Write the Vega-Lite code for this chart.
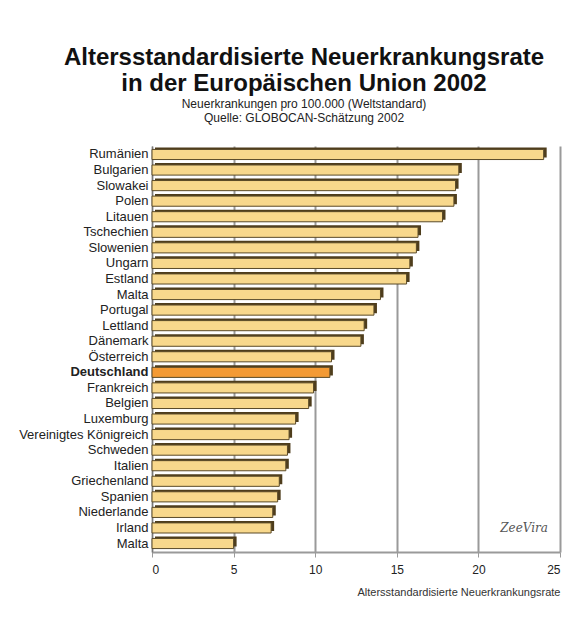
{
  "$schema": "https://vega.github.io/schema/vega-lite/v6.json",
  "autosize": "none",
  "width": 408,
  "height": 406,
  "padding": {"left": 152, "top": 146, "right": 3, "bottom": 69},
  "background": "white",
  "title": {
    "text": ["Altersstandardisierte Neuerkrankungsrate", "in der Europäischen Union 2002"],
    "subtitle": ["Neuerkrankungen pro 100.000 (Weltstandard)", "Quelle: GLOBOCAN-Schätzung 2002"],
    "anchor": "middle",
    "dx": -52,
    "offset": 22,
    "font": "Liberation Sans",
    "fontSize": 24,
    "fontWeight": "bold",
    "color": "#111111",
    "lineHeight": 26,
    "subtitleFont": "Liberation Sans",
    "subtitleFontSize": 12,
    "subtitleLineHeight": 14,
    "subtitleColor": "#222222",
    "subtitlePadding": 3
  },
  "data": {
    "values": [
      {"land": "Rumänien", "rate": 24.0},
      {"land": "Bulgarien", "rate": 18.8},
      {"land": "Slowakei", "rate": 18.6},
      {"land": "Polen", "rate": 18.5},
      {"land": "Litauen", "rate": 17.8},
      {"land": "Tschechien", "rate": 16.3},
      {"land": "Slowenien", "rate": 16.2},
      {"land": "Ungarn", "rate": 15.8},
      {"land": "Estland", "rate": 15.6},
      {"land": "Malta", "rate": 14.0},
      {"land": "Portugal", "rate": 13.6},
      {"land": "Lettland", "rate": 13.0},
      {"land": "Dänemark", "rate": 12.8},
      {"land": "Österreich", "rate": 11.0},
      {"land": "Deutschland", "rate": 10.9},
      {"land": "Frankreich", "rate": 9.9},
      {"land": "Belgien", "rate": 9.6},
      {"land": "Luxemburg", "rate": 8.8},
      {"land": "Vereinigtes Königreich", "rate": 8.4},
      {"land": "Schweden", "rate": 8.3},
      {"land": "Italien", "rate": 8.2},
      {"land": "Griechenland", "rate": 7.8},
      {"land": "Spanien", "rate": 7.7},
      {"land": "Niederlande", "rate": 7.4},
      {"land": "Irland", "rate": 7.3},
      {"land": "Malta\u200b", "rate": 5.0}
    ]
  },
  "encoding": {
    "y": {
      "field": "land",
      "type": "nominal",
      "sort": null,
      "scale": {"paddingInner": 0.35, "paddingOuter": 0.22},
      "axis": {
        "title": null,
        "ticks": false,
        "domain": true,
        "domainColor": "#777777",
        "labelPadding": 4,
        "labelFont": "Liberation Sans",
        "labelFontSize": 13,
        "labelColor": "#222222",
        "labelFontWeight": {"condition": {"test": "datum.value === 'Deutschland'", "value": "bold"}, "value": "normal"}
      }
    },
    "x": {
      "field": "rate",
      "type": "quantitative",
      "scale": {"domain": [0, 25], "nice": false},
      "axis": {
        "title": "Altersstandardisierte Neuerkrankungsrate",
        "values": [0, 5, 10, 15, 20, 25],
        "grid": true,
        "gridColor": "#9a9a9a",
        "gridWidth": 2,
        "domainColor": "#9a9a9a",
        "domainWidth": 2,
        "tickColor": "#9a9a9a",
        "tickSize": 5,
        "labelPadding": 7,
        "labelFont": "Liberation Sans",
        "labelFontSize": 12,
        "labelColor": "#222222",
        "titleFont": "Liberation Sans",
        "titleFontSize": 11,
        "titleFontWeight": "normal",
        "titleColor": "#333333",
        "titleAnchor": "start",
        "titleAlign": "left",
        "titleX": 205,
        "titleY": 40,
        "titleBaseline": "middle"
      }
    }
  },
  "layer": [
    {
      "mark": {"type": "bar", "color": "#4e3d1c", "xOffset": 3, "yOffset": -2}
    },
    {
      "mark": {"type": "bar", "stroke": "#5a4a28", "strokeWidth": 1},
      "encoding": {
        "color": {
          "condition": {"test": "datum.land === 'Deutschland'", "value": "#f39a34"},
          "value": "#f8d88c"
        }
      }
    },
    {
      "data": {"values": [{"land": "Irland", "rate": 22.8, "logo": "ZeeVira"}]},
      "mark": {"type": "text", "font": "DejaVu Serif", "fontStyle": "italic", "fontSize": 12, "color": "#555555"},
      "encoding": {"text": {"field": "logo"}}
    }
  ],
  "config": {
    "view": {"stroke": null}
  }
}
